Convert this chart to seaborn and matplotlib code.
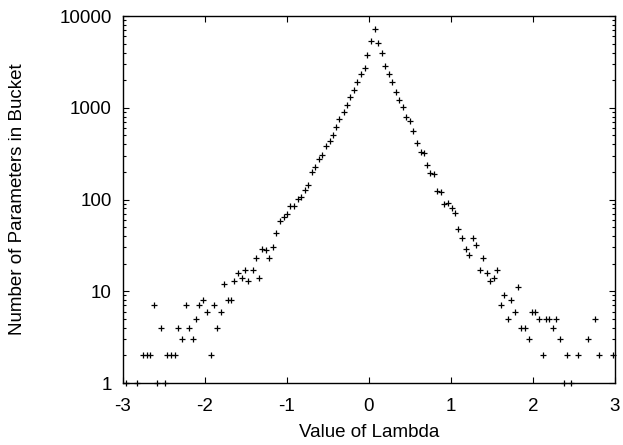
# -*- coding: utf-8 -*-
import matplotlib
matplotlib.use("Agg")
import matplotlib.pyplot as plt
import matplotlib.ticker as mticker
import numpy as np
import pandas as pd
import seaborn as sns

# 数据: lambda 取值及对应桶内参数个数
lambda_values = [
    -2.96, -2.83, -2.75, -2.71, -2.67, -2.62, -2.58, -2.54, -2.49, -2.46,
    -2.42, -2.37, -2.33, -2.28, -2.23, -2.20, -2.15, -2.11, -2.07, -2.02,
    -1.98, -1.93, -1.89, -1.85, -1.81, -1.77, -1.72, -1.68, -1.64, -1.60,
    -1.55, -1.51, -1.47, -1.42, -1.38, -1.34, -1.30, -1.26, -1.22, -1.17,
    -1.13, -1.09, -1.04, -1.00, -0.96, -0.92, -0.86, -0.83, -0.78, -0.74,
    -0.69, -0.66, -0.61, -0.57, -0.52, -0.48, -0.44, -0.40, -0.36, -0.31,
    -0.27, -0.23, -0.18, -0.14, -0.10, -0.05, -0.02, 0.02, 0.07, 0.11,
    0.16, 0.20, 0.24, 0.28, 0.33, 0.37, 0.41, 0.45, 0.50, 0.54,
    0.58, 0.63, 0.67, 0.71, 0.75, 0.79, 0.83, 0.88, 0.92, 0.96,
    1.01, 1.05, 1.09, 1.14, 1.18, 1.22, 1.27, 1.31, 1.35, 1.39,
    1.44, 1.48, 1.52, 1.56, 1.61, 1.65, 1.69, 1.73, 1.78, 1.82,
    1.86, 1.90, 1.95, 1.99, 2.03, 2.07, 2.12, 2.16, 2.20, 2.24,
    2.28, 2.33, 2.38, 2.42, 2.46, 2.55, 2.67, 2.76, 2.81, 2.97,
]
bucket_counts = [
    1, 1, 2, 2, 2, 7, 1, 4, 1, 2,
    2, 2, 4, 3, 7, 4, 3, 5, 7, 8,
    6, 2, 7, 4, 6, 12, 8, 8, 13, 16,
    14, 17, 13, 17, 23, 14, 29, 28, 23, 30,
    43, 58, 65, 70, 85, 85, 101, 106, 127, 143,
    201, 228, 274, 303, 383, 434, 508, 622, 748, 892,
    1081, 1320, 1561, 1893, 2333, 2690, 3757, 5340, 7160, 5117,
    3920, 2875, 2333, 1923, 1485, 1215, 1027, 799, 717, 558,
    416, 327, 319, 236, 196, 188, 125, 120, 89, 92,
    80, 72, 48, 38, 29, 25, 38, 32, 17, 23,
    16, 13, 14, 17, 7, 9, 5, 8, 6, 11,
    4, 4, 3, 6, 6, 5, 2, 5, 5, 4,
    5, 3, 1, 2, 1, 2, 3, 5, 2, 2,
]
x_ticks = [-3, -2, -1, 0, 1, 2, 3]
y_ticks = [1, 10, 100, 1000, 10000]

sns.set_style("ticks")
plt.rcParams["font.family"] = ["Liberation Sans", "DejaVu Sans"]
plt.rcParams["axes.unicode_minus"] = False
label_fontsize = 13.5

df = pd.DataFrame({"lambda": lambda_values, "count": bucket_counts})

fig = plt.figure(figsize = (6.23, 4.45), dpi = 100, facecolor = "w")
ax = fig.add_axes([0.1974, 0.1393, 0.7897, 0.8247])

sns.scatterplot(
    data = df, x = "lambda", y = "count",
    marker = "+", color = "black", s = 22, linewidth = 0.9,
    ax = ax, clip_on = False,
)
ax.set_yscale("log")
ax.set_xlim(-3, 3)
ax.set_ylim(1, 10000)
ax.set_xticks(x_ticks)
ax.set_xticklabels([str(t) for t in x_ticks], fontsize = label_fontsize)
ax.set_yticks(y_ticks)
ax.yaxis.set_major_formatter(mticker.FuncFormatter(lambda v, p: f"{int(v)}"))
ax.yaxis.set_minor_locator(mticker.LogLocator(base = 10, subs = np.arange(2, 10)))
ax.yaxis.set_minor_formatter(mticker.NullFormatter())
ax.tick_params(axis = "both", which = "both", direction = "in",
               top = True, right = True, labelsize = label_fontsize, width = 0.8,
               labelcolor = "black", color = "black")
ax.tick_params(axis = "x", which = "major", length = 4, pad = 11)
ax.tick_params(axis = "y", which = "major", length = 4, pad = 8)
ax.tick_params(axis = "y", which = "minor", length = 2.2)
ax.tick_params(axis = "x", which = "minor", bottom = False, top = False)
for sp in ax.spines.values():
    sp.set_linewidth(1.0)
    sp.set_color("black")

ax.set_xlabel("Value of Lambda", fontsize = label_fontsize, labelpad = 6, color = "black")
ax.set_ylabel("Number of Parameters in Bucket", fontsize = label_fontsize,
              labelpad = 24, color = "black")

fig.savefig("out.png", dpi = 100, facecolor = "w")
